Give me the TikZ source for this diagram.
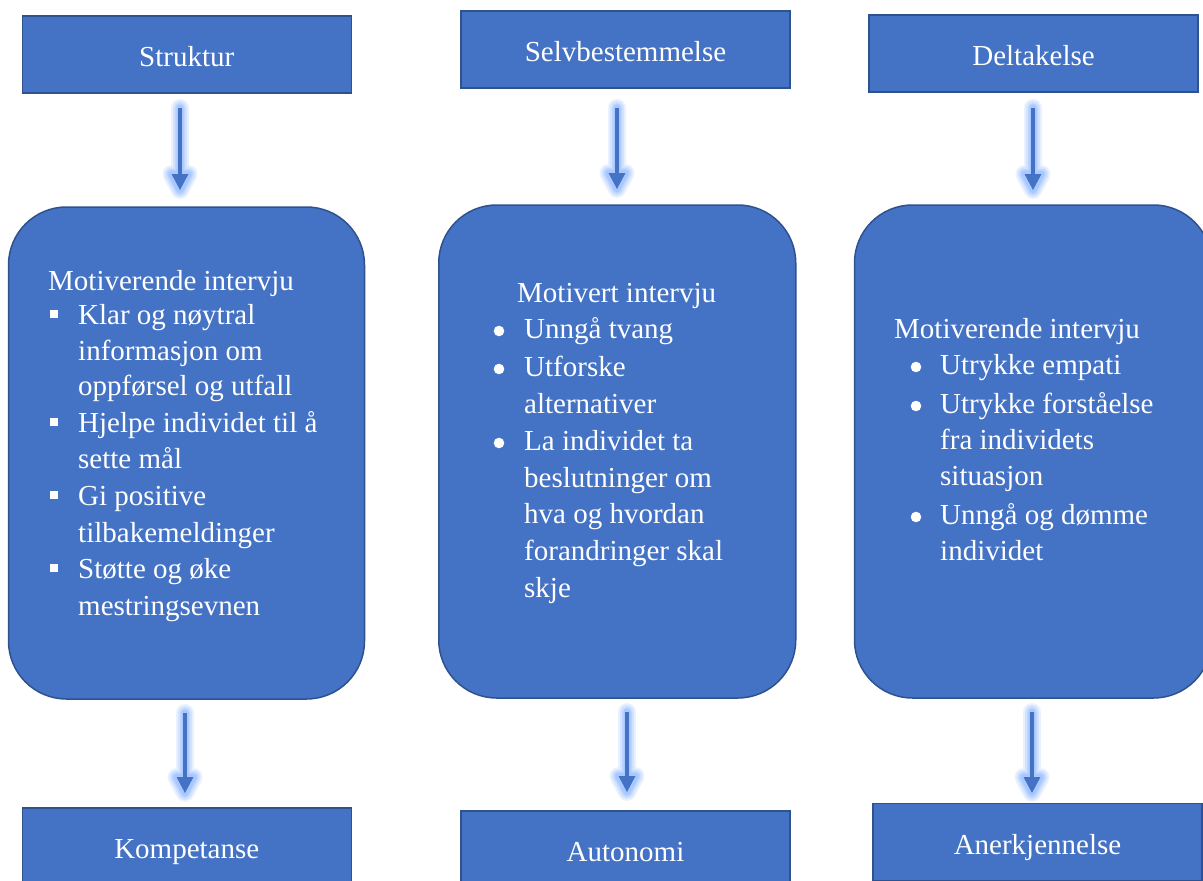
\documentclass[tikz,border=0pt]{standalone}
\usepackage{fontspec}
\setmainfont{Liberation Serif}
\usetikzlibrary{calc}
\definecolor{boxfill}{RGB}{68,114,196}
\definecolor{boxline}{RGB}{47,82,143}
\definecolor{glowc}{RGB}{120,170,255}
\newcommand\garrow[2]{%
  \foreach \w/\o in {18/0.16,14/0.2,10/0.24,7/0.3}{%
    \draw[glowc, line width=\w pt, opacity=\o, line cap=round, line join=round]
      (#1) -- ($(#2)+(0,-16)$) ($(#2)+(-8.5,-16)$) -- ($(#2)+(8.5,-16)$) -- (#2) -- cycle;
  }
  \draw[boxfill, line width=4pt] (#1) -- ($(#2)+(0,-14)$);
  \fill[boxfill] ($(#2)+(-8.5,-16)$) -- ($(#2)+(8.5,-16)$) -- (#2) -- cycle;
}
\newcommand\tl[4]{\node[txt] (#1) at (#2,#3) {#4};}
\newcommand\sqb[2]{\fill[white] (#1-4,#2-4) rectangle (#1+4,#2+4);}
\newcommand\rdb[2]{\fill[white] (#1,#2) circle (5.3);}
\begin{document}
\begin{tikzpicture}[x=1pt,y=-1pt,
  hdr/.style={draw=boxline, line width=1.5pt, fill=boxfill, minimum width=329pt, minimum height=77pt,
    inner sep=0pt, text=white, font=\fontsize{29}{29}\selectfont, text height=24pt, text depth=0pt},
  rbox/.style={draw=boxline, line width=1.5pt, fill=boxfill, rounded corners=58pt, inner sep=0pt,
    minimum width=357pt, minimum height=493pt},
  txt/.style={anchor=base west, inner sep=0pt, text=white, font=\fontsize{29}{29}\selectfont}]
\useasboundingbox (0,0) rectangle (1203,881);
\clip (0,0) rectangle (1203,881);

% header boxes
\node[hdr] (s1) at (186.75,54.5) {Struktur};
\node[hdr] (s2) at (625.5,49.5) {Selvbestemmelse};
\node[hdr] (s3) at (1033.5,53.5) {Deltakelse};
% bottom boxes
\node[hdr] (b1) at (186.75,846.5) {Kompetanse};
\node[hdr] (b2) at (625.5,849.5) {Autonomi};
\node[hdr] (b3) at (1037.5,842) {Anerkjennelse};
% rounded boxes
\node[rbox, minimum width=356pt, minimum height=492pt] (r1) at (186.5,453) {};
\node[rbox] (r2) at (617.25,451.5) {};
\node[rbox] (r3) at (1033,451.5) {};

% arrow end points
\coordinate (a1s) at (180,108); \coordinate (a1e) at (180,190);
\coordinate (a2s) at (617,108); \coordinate (a2e) at (617,189);
\coordinate (a3s) at (1033,108); \coordinate (a3e) at (1033,190);
\coordinate (a4s) at (185,713); \coordinate (a4e) at (185,793);
\coordinate (a5s) at (627,712); \coordinate (a5e) at (627,792);
\coordinate (a6s) at (1032,712); \coordinate (a6e) at (1032,793);
\garrow{a1s}{a1e}
\garrow{a2s}{a2e}
\garrow{a3s}{a3e}
\garrow{a4s}{a4e}
\garrow{a5s}{a5e}
\garrow{a6s}{a6e}

% left box text
\tl{l0}{48}{290}{Motiverende intervju}
\tl{l1}{78}{324}{Klar og nøytral}
\tl{l2}{78}{360}{informasjon om}
\tl{l3}{78}{395}{oppførsel og utfall}
\tl{l4}{78}{432}{Hjelpe individet til å}
\tl{l5}{78}{468}{sette mål}
\tl{l6}{78}{505}{Gi positive}
\tl{l7}{78}{542}{tilbakemeldinger}
\tl{l8}{78}{578}{Støtte og øke}
\tl{l9}{78}{615}{mestringsevnen}
\sqb{54}{314}
\sqb{54}{422}
\sqb{54}{495}
\sqb{54}{568}

% middle box text
\tl{m0}{517}{302}{Motivert intervju}
\tl{m1}{524}{338}{Unngå tvang}
\tl{m2}{524}{376}{Utforske}
\tl{m3}{524}{413}{alternativer}
\tl{m4}{524}{450}{La individet ta}
\tl{m5}{524}{487}{beslutninger om}
\tl{m6}{524}{523}{hva og hvordan}
\tl{m7}{524}{560}{forandringer skal}
\tl{m8}{524}{597}{skje}
\rdb{499}{331}
\rdb{499}{369}
\rdb{499}{443}

% right box text
\tl{n0}{894}{338}{Motiverende intervju}
\tl{n1}{940}{374}{Utrykke empati}
\tl{n2}{940}{413}{Utrykke forståelse}
\tl{n3}{940}{449}{fra individets}
\tl{n4}{940}{485}{situasjon}
\tl{n5}{940}{524}{Unngå og dømme}
\tl{n6}{940}{560}{individet}
\rdb{916}{367}
\rdb{916}{406}
\rdb{916}{517}
\end{tikzpicture}
\end{document}
